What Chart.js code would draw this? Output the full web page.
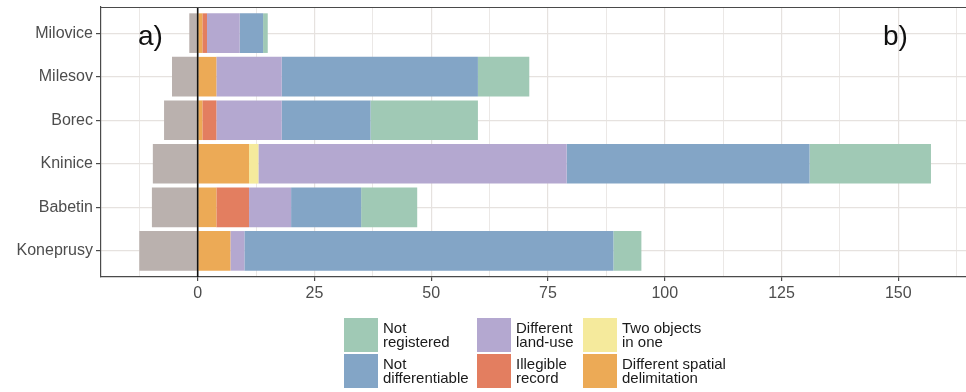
<!DOCTYPE html>
<html>
<head>
<meta charset="utf-8">
<script src="https://cdn.jsdelivr.net/npm/chart.js@4/dist/chart.umd.min.js"></script>
<style>
  html, body { margin: 0; padding: 0; background: #fff; overflow: hidden; }
  canvas { display: block; }
</style>
</head>
<body>
<canvas id="c" width="966" height="392"></canvas>
<script>
// Sites, top to bottom
const sites = ['Milovice', 'Milesov', 'Borec', 'Kninice', 'Babetin', 'Koneprusy'];

// Counts per category (stacked from zero outwards)
const unassigned          = [-1.8, -5.5, -7.2, -9.6, -9.8, -12.5];
const spatialDelimitation = [1, 4, 1, 11, 4, 7];
const illegibleRecord     = [1, 0, 3, 0, 7, 0];
const twoObjects          = [0, 0, 0, 2, 0, 0];
const landUse             = [7, 14, 14, 66, 9, 3];
const notDifferentiable   = [5, 42, 19, 52, 15, 79];
const notRegistered       = [1, 11, 23, 26, 12, 6];

// Axis ticks
const xTickValues  = [0, 25, 50, 75, 100, 125, 150];
const xMinorValues = [-12.5, 12.5, 37.5, 62.5, 87.5, 112.5, 137.5, 162.5];

// Series names as printed in the legend (two lines each)
const seriesNames = [
  'Different spatial\ndelimitation',
  'Illegible\nrecord',
  'Two objects\nin one',
  'Different\nland-use',
  'Not\ndifferentiable',
  'Not\nregistered'
];
const seriesValues = [spatialDelimitation, illegibleRecord, twoObjects, landUse, notDifferentiable, notRegistered];
const seriesColors = ['#ecaa56', '#e37e60', '#f5ea9c', '#b4a8d0', '#83a5c6', '#a0c9b5'];
const unassignedColor = '#bab1ae';

// Legend grid: columns left to right, rows top to bottom (indexes into series)
const legendGrid = [[5, 4], [3, 1], [2, 0]];

const toPoints = arr => arr.map((v, i) => ({ x: v, y: i }));

const datasets = [{
  label: 'Unassigned',
  data: toPoints(unassigned),
  backgroundColor: unassignedColor,
  stack: 'all'
}].concat(seriesValues.map((vals, k) => ({
  label: seriesNames[k].replace('\n', ' '),
  data: toPoints(vals),
  backgroundColor: seriesColors[k],
  stack: 'all'
})));

const FONT = '"Liberation Sans", Arial, sans-serif';
const GRID = '#e6e2df';
const FRAME = '#4a4a4a';

const decor = {
  id: 'decor',
  afterDatasetsDraw(chart) {
    const { ctx, chartArea: a, scales: { x } } = chart;
    const x0 = x.getPixelForValue(0);
    ctx.save();
    // reference line at zero
    ctx.strokeStyle = '#111';
    ctx.lineWidth = 1.6;
    ctx.beginPath();
    ctx.moveTo(x0, a.top);
    ctx.lineTo(x0, a.bottom);
    ctx.stroke();
    // top edge of the panel frame
    ctx.strokeStyle = FRAME;
    ctx.lineWidth = 1.2;
    ctx.beginPath();
    ctx.moveTo(a.left, a.top + 0.5);
    ctx.lineTo(a.right, a.top + 0.5);
    ctx.stroke();
    // panel tags
    ctx.fillStyle = '#111';
    ctx.font = '28px ' + FONT;
    ctx.textBaseline = 'alphabetic';
    ctx.textAlign = 'left';
    ctx.fillText('a)', 138, 45);
    ctx.fillText('b)', 883, 45);
    // legend
    const colX = [344, 477, 583];
    const rowY = [318, 354];
    ctx.font = '15px ' + FONT;
    ctx.textBaseline = 'middle';
    legendGrid.forEach((col, ci) => {
      col.forEach((si, ri) => {
        const kx = colX[ci], ky = rowY[ri];
        ctx.fillStyle = seriesColors[si];
        ctx.fillRect(kx, ky, 34, 34);
        ctx.fillStyle = '#1a1a1a';
        seriesNames[si].split('\n').forEach((line, li) => {
          ctx.fillText(line, kx + 39, ky + 10.5 + li * 14.5);
        });
      });
    });
    ctx.restore();
  }
};

new Chart(document.getElementById('c'), {
  type: 'bar',
  data: { datasets },
  options: {
    indexAxis: 'y',
    responsive: false,
    animation: false,
    devicePixelRatio: 1,
    layout: { padding: { top: 7, bottom: 85, left: 0, right: 0 } },
    datasets: { bar: { categoryPercentage: 1, barPercentage: 0.91, borderWidth: 0 } },
    plugins: { legend: { display: false }, tooltip: { enabled: false } },
    scales: {
      x: {
        type: 'linear',
        stacked: true,
        min: -20.7,
        max: 164.5,
        afterBuildTicks: s => {
          s.ticks = xMinorValues.concat(xTickValues).sort((p, q) => p - q).map(v => ({ value: v }));
        },
        afterFit: s => { s.height = 30; s.paddingLeft = 0; s.paddingRight = 0; },
        ticks: {
          autoSkip: false,
          maxRotation: 0,
          padding: 3,
          color: '#4d4d4d',
          font: { family: FONT, size: 16 },
          callback: v => (xTickValues.includes(v) ? String(v) : '')
        },
        grid: {
          color: GRID,
          lineWidth: c => (c.tick && xTickValues.includes(c.tick.value) ? 1.2 : 0.8),
          tickLength: 4,
          tickColor: c => (c.tick && xTickValues.includes(c.tick.value) ? FRAME : 'rgba(0,0,0,0)'),
          tickWidth: 1.2
        },
        border: { display: true, color: FRAME, width: 1.2 }
      },
      y: {
        type: 'linear',
        reverse: true,
        offset: false,
        min: -0.6,
        max: sites.length - 0.4,
        afterBuildTicks: s => { s.ticks = sites.map((_, i) => ({ value: i })); },
        afterFit: s => { s.width = 101; s.paddingTop = 0; s.paddingBottom = 0; },
        ticks: {
          autoSkip: false,
          padding: 3,
          color: '#4d4d4d',
          font: { family: FONT, size: 16 },
          callback: v => sites[v] ?? ''
        },
        grid: {
          offset: false,
          color: GRID,
          lineWidth: 1.2,
          tickLength: 5,
          tickColor: FRAME,
          tickWidth: 1.2
        },
        border: { display: true, color: FRAME, width: 1.2 }
      }
    }
  },
  plugins: [decor]
});
</script>
</body>
</html>
